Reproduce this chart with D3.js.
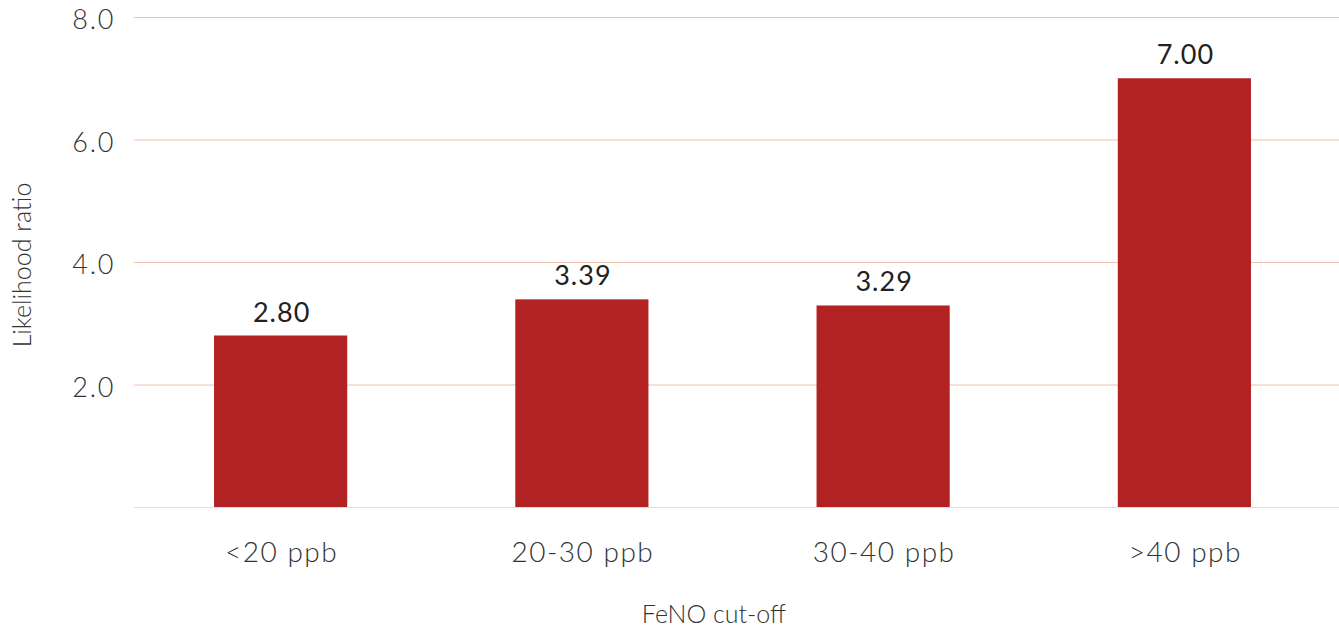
<!DOCTYPE html>
<html>
<head>
<meta charset="utf-8">
<script src="https://cdn.jsdelivr.net/npm/d3@7"></script>
<style>
  html, body { margin: 0; padding: 0; background: #fff; }
  svg { display: block; font-family: Lato, "Open Sans", sans-serif; }
</style>
</head>
<body>
<svg id="chart" width="1339" height="628"></svg>
<script>
// FeNO cut-off categories and their likelihood ratios
const categories = ["<20 ppb", "20-30 ppb", "30-40 ppb", ">40 ppb"];
const ratios = [2.80, 3.39, 3.29, 7.00];
const yTicks = [2, 4, 6, 8];

const svg = d3.select("#chart");
const plotLeft = 134, plotRight = 1339, plotTop = 17, plotBottom = 507;

const x = d3.scaleBand()
  .domain(categories)
  .range([130, 1335])
  .paddingInner(0.558)
  .paddingOuter(0.279);

const y = d3.scaleLinear().domain([0, 8]).range([plotBottom, plotTop]);

// horizontal gridlines, including the baseline
svg.append("g")
  .selectAll("line")
  .data([0, ...yTicks])
  .join("line")
  .attr("x1", plotLeft).attr("x2", plotRight)
  .attr("y1", d => y(d) + 0.5).attr("y2", d => y(d) + 0.5)
  .attr("stroke", d => d === 0 ? "#f6d6cc" : "#f2c2b3")
  .attr("stroke-width", 1);

// y axis tick labels
const yAxis = d3.axisLeft(y).tickValues(yTicks).tickFormat(d3.format(".1f")).tickSize(0).tickPadding(0);
svg.append("g")
  .attr("transform", "translate(115,3)")
  .call(yAxis)
  .call(g => g.select(".domain").remove())
  .call(g => g.selectAll("text")
    .attr("font-size", 27)
    .attr("font-weight", 300)
    .attr("letter-spacing", 1.7)
    .attr("font-family", "Lato, 'Open Sans', sans-serif")
    .attr("fill", "#333"));

// bars
svg.append("g")
  .selectAll("rect")
  .data(categories.map((c, i) => ({ c, v: ratios[i] })))
  .join("rect")
  .attr("x", d => x(d.c))
  .attr("width", x.bandwidth())
  .attr("y", d => y(d.v))
  .attr("height", d => y(0) - y(d.v))
  .attr("fill", "#b22222");

// value labels above bars
svg.append("g")
  .selectAll("text")
  .data(categories.map((c, i) => ({ c, v: ratios[i] })))
  .join("text")
  .attr("x", d => x(d.c) + x.bandwidth() / 2 + 1)
  .attr("y", d => y(d.v) - 14)
  .attr("text-anchor", "middle")
  .attr("font-size", 27)
  .attr("letter-spacing", 1)
  .attr("fill", "#222")
  .text(d => d3.format(".2f")(d.v));

// x axis category labels
const xAxis = d3.axisBottom(x).tickSize(0).tickPadding(0);
svg.append("g")
  .attr("transform", "translate(1,542)")
  .call(xAxis)
  .call(g => g.select(".domain").remove())
  .call(g => g.selectAll("text")
    .attr("font-size", 28)
    .attr("font-weight", 300)
    .attr("letter-spacing", 1.5)
    .attr("font-family", "Lato, 'Open Sans', sans-serif")
    .attr("fill", "#333"));

// axis titles
svg.append("text")
  .attr("x", 714).attr("y", 623)
  .attr("text-anchor", "middle")
  .attr("font-size", 25)
  .attr("font-weight", 300)
  .attr("fill", "#333")
  .text("FeNO cut-off");

svg.append("text")
  .attr("transform", "translate(31,265) rotate(-90)")
  .attr("text-anchor", "middle")
  .attr("font-size", 25)
  .attr("font-weight", 300)
  .attr("fill", "#333")
  .text("Likelihood ratio");
</script>
</body>
</html>
